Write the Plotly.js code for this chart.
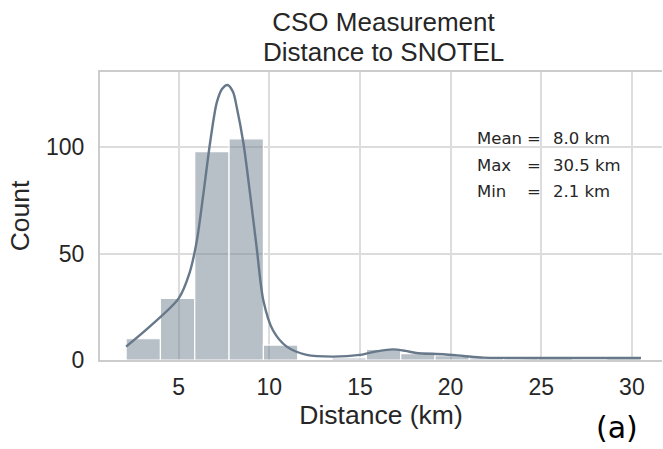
<!DOCTYPE html>
<html>
<head>
<meta charset="utf-8">
<script src="https://cdn.plot.ly/plotly-3.0.1.min.js"></script>
<style>html,body{margin:0;padding:0;overflow:hidden;background:#fff}</style>
</head>
<body>
<div id="chart" style="width:663px;height:449px"></div>
<script>
// Histogram: 15 bins between min 2.1 km and max 30.5 km
const binStart = 2.1;
const binEnd = 30.5;
const binCounts = [10, 29, 98, 104, 7, 0, 1, 5, 3, 2, 1, 1, 1, 0, 1];

// KDE curve (scaled to counts)
const kdeX = [2.1, 3.4, 5.0, 5.6, 6.0, 6.36, 6.73, 7.1, 7.4, 7.7, 8.0, 8.2, 8.57, 8.94, 9.3, 9.67, 10.2, 10.96, 12.06, 13.5, 15.0, 15.4, 16.0, 16.8, 17.5, 18.1, 19.6, 20.7, 21.8, 23.6, 26.0, 28.0, 30.5];
const kdeY = [6.3, 15.7, 29, 41, 56, 78, 102, 121, 127.5, 129.3, 126, 119, 102, 78, 53, 28, 14, 6.3, 2.4, 1.6, 2.4, 3.1, 4.2, 5.0, 4.3, 3.3, 2.7, 1.9, 1.1, 1.0, 0.95, 0.95, 0.95];

const xTicks = [5, 10, 15, 20, 25, 30];
const yTicks = [0, 50, 100];

const titleLines = ["CSO Measurement", "Distance to SNOTEL"];
const statLabels = ["Mean", "Max", "Min"];
const statValues = ["8.0 km", "30.5 km", "2.1 km"];

const binWidth = (binEnd - binStart) / binCounts.length;
const binCenters = binCounts.map((_, i) => binStart + binWidth * (i + 0.5));

const bars = {
  type: 'bar',
  x: binCenters,
  y: binCounts,
  width: binWidth,
  marker: {color: 'rgba(112,128,144,0.5)', line: {color: '#ffffff', width: 1.2}},
  hoverinfo: 'x+y'
};
const kde = {
  type: 'scatter',
  mode: 'lines',
  x: kdeX,
  y: kdeY,
  line: {color: '#66788a', width: 2.4, shape: 'spline', smoothing: 0.8}
};

// pixel helpers for text placement (plot area: x 100..662, y 72..360)
const L = 100, R = 662, T = 72, B = 360, W = 663, H = 449;
const px = v => (v - L) / (R - L);
const py = v => (B - v) / (B - T);

const ann = [];
const rowY = [138, 165.5, 191.5];
const sf = {family: '"DejaVu Sans", sans-serif', size: 16.5, color: '#262626'};
statLabels.forEach((lab, i) => {
  ann.push({x: px(475), y: py(rowY[i]), xref: 'paper', yref: 'paper', text: lab, showarrow: false, xanchor: 'left', yanchor: 'middle', font: sf});
  ann.push({x: px(534), y: py(rowY[i]), xref: 'paper', yref: 'paper', text: '=', showarrow: false, xanchor: 'center', yanchor: 'middle', font: sf});
  ann.push({x: px(551), y: py(rowY[i]), xref: 'paper', yref: 'paper', text: statValues[i], showarrow: false, xanchor: 'left', yanchor: 'middle', font: sf});
});
ann.push({x: px(617), y: py(427), xref: 'paper', yref: 'paper', text: '(a)', showarrow: false, xanchor: 'center', yanchor: 'middle',
  font: {family: '"DejaVu Sans", sans-serif', size: 30, color: '#000'}});
ann.push({x: px(383.5), y: py(52), xref: 'paper', yref: 'paper', text: titleLines[1], showarrow: false, xanchor: 'center', yanchor: 'middle',
  font: {family: '"Liberation Sans", Arial, sans-serif', size: 26, color: '#262626'}});

const layout = {
  width: W, height: H,
  margin: {l: L, r: W - R, t: T, b: H - B, pad: 0},
  paper_bgcolor: '#ffffff', plot_bgcolor: '#ffffff',
  showlegend: false,
  bargap: 0,
  font: {family: '"Liberation Sans", Arial, sans-serif', color: '#262626'},
  title: {text: titleLines[0], x: 383.5 / W, xanchor: 'center', xref: 'container', yref: 'container', y: 1 - 22 / H, yanchor: 'middle', font: {size: 26, color: '#262626'}},
  xaxis: {
    range: [0.66, 31.66], tickvals: xTicks, ticktext: xTicks.map(String),
    showgrid: true, gridcolor: '#dcdcdc', gridwidth: 1.8,
    showline: true, linecolor: '#cccccc', linewidth: 2, mirror: true,
    ticks: '', zeroline: false, tickfont: {size: 23, color: '#262626'}, ticklabelstandoff: 5,
    title: {text: 'Distance (km)', font: {size: 26.5, color: '#262626'}, standoff: 5}
  },
  yaxis: {
    range: [0, 135.4], tickvals: yTicks, ticktext: yTicks.map(String),
    showgrid: true, gridcolor: '#dcdcdc', gridwidth: 1.8,
    showline: true, linecolor: '#cccccc', linewidth: 2,
    ticks: '', zeroline: false, tickfont: {size: 23, color: '#262626'}, ticklabelstandoff: 9,
    title: {text: 'Count', font: {size: 26.5, color: '#262626'}, standoff: 9}
  },
  annotations: ann
};

Plotly.newPlot('chart', [bars, kde], layout, {displayModeBar: false, staticPlot: true});
</script>
</body>
</html>
